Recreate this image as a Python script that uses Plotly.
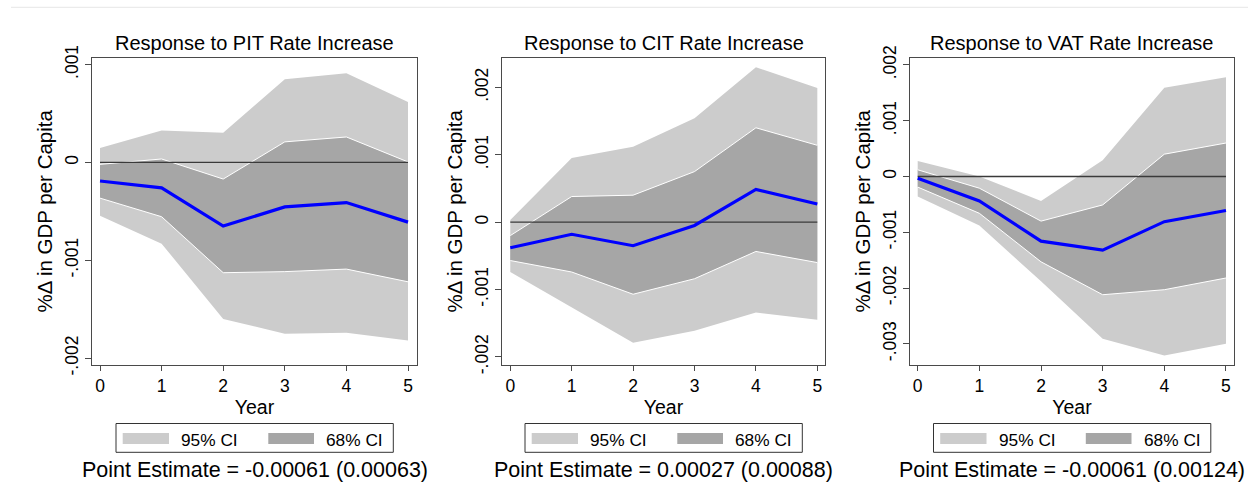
import plotly.graph_objects as go

years = [0, 1, 2, 3, 4, 5]

panel_titles = ["Response to PIT Rate Increase",
                "Response to CIT Rate Increase",
                "Response to VAT Rate Increase"]
point_notes = ["Point Estimate = -0.00061 (0.00063)",
               "Point Estimate = 0.00027 (0.00088)",
               "Point Estimate = -0.00061 (0.00124)"]
legend_labels = ["95% CI", "68% CI"]

# PIT
pit_pe = [-0.00019, -0.00026, -0.00065, -0.000455, -0.00041, -0.00061]
pit_hi68 = [-0.00002, 0.000035, -0.00017, 0.00021, 0.00026, 0.000005]
pit_lo68 = [-0.000365, -0.000555, -0.001127, -0.001116, -0.00109, -0.00122]
pit_hi95 = [0.000148, 0.000326, 0.000302, 0.00085, 0.000912, 0.000617]
pit_lo95 = [-0.000545, -0.00083, -0.0016, -0.00175, -0.00174, -0.00182]

# CIT
cit_pe = [-0.00038, -0.00018, -0.00035, -0.00005, 0.000486, 0.00027]
cit_hi68 = [-0.0002, 0.00038, 0.0004, 0.00075, 0.0014, 0.00114]
cit_lo68 = [-0.00057, -0.00074, -0.00107, -0.00084, -0.000435, -0.0006]
cit_hi95 = [0.00003, 0.00095, 0.00112, 0.00154, 0.0023, 0.00199]
cit_lo95 = [-0.00074, -0.00126, -0.00179, -0.00161, -0.00134, -0.00145]

# VAT
vat_pe = [-0.00003, -0.00044, -0.00116, -0.00132, -0.00081, -0.00061]
vat_hi68 = [0.00012, -0.00021, -0.0008, -0.00051, 0.0004, 0.0006]
vat_lo68 = [-0.00019, -0.00066, -0.00153, -0.00212, -0.00203, -0.00182]
vat_hi95 = [0.00028, 0.0, -0.00044, 0.00029, 0.00159, 0.00178]
vat_lo95 = [-0.00036, -0.00088, -0.00188, -0.00291, -0.00321, -0.003]

pit_yticks = [0.001, 0, -0.001, -0.002]
pit_ytext = [".001", "0", "-.001", "-.002"]
cit_yticks = [0.002, 0.001, 0, -0.001, -0.002]
cit_ytext = [".002", ".001", "0", "-.001", "-.002"]
vat_yticks = [0.002, 0.001, 0, -0.001, -0.002, -0.003]
vat_ytext = [".002", ".001", "0", "-.001", "-.002", "-.003"]

panels = [
    (pit_pe, pit_hi68, pit_lo68, pit_hi95, pit_lo95, pit_yticks, pit_ytext),
    (cit_pe, cit_hi68, cit_lo68, cit_hi95, cit_lo95, cit_yticks, cit_ytext),
    (vat_pe, vat_hi68, vat_lo68, vat_hi95, vat_lo95, vat_yticks, vat_ytext),
]

W, H = 1248, 493
FONT = "Liberation Sans, Arial, Helvetica, sans-serif"
C95 = "#cccccc"
C68 = "#a6a6a6"
BLUE = "#0000ff"
AXC = "#4a4a4a"

# layout geometry (pixels)
xdom_px = [(92, 417), (502, 825), (909.7, 1234.3)]
ydom_px = (57.7, 365)
xranges = [(-0.13, 5.146), (-0.135, 5.125), (-0.13, 5.135)]
yranges = [(-0.00207, 0.00107), (-0.00212, 0.00244), (-0.00338, 0.00213)]

fig = go.Figure()
layout = dict(
    width=W, height=H,
    margin=dict(l=0, r=0, t=0, b=0),
    paper_bgcolor="white", plot_bgcolor="white",
    font=dict(family=FONT, color="black"),
    showlegend=False,
    annotations=[], shapes=[],
)

ydom = [1 - ydom_px[1] / H, 1 - ydom_px[0] / H]


def px_x(v):
    return v / W


def px_y(v):
    return 1 - v / H


for i, (pe, hi68, lo68, hi95, lo95, yt, ytx) in enumerate(panels):
    k = "" if i == 0 else str(i + 1)
    xa, ya = "x" + k, "y" + k
    common = dict(x=years, xaxis=xa, yaxis=ya, mode="lines", hoverinfo="skip")
    fig.add_trace(go.Scatter(y=lo95, line=dict(width=0, color=C95),
                             showlegend=False, **common))
    fig.add_trace(go.Scatter(y=hi95, fill="tonexty", fillcolor=C95,
                             line=dict(width=0, color=C95), name=legend_labels[0],
                             **common))
    fig.add_trace(go.Scatter(y=lo68, line=dict(width=1, color="white"),
                             showlegend=False, **common))
    fig.add_trace(go.Scatter(y=hi68, fill="tonexty", fillcolor=C68,
                             line=dict(width=1, color="white"), name=legend_labels[1],
                             **common))
    fig.add_trace(go.Scatter(x=[years[0], years[-1]], y=[0, 0], xaxis=xa, yaxis=ya,
                             mode="lines", line=dict(width=1.3, color="#3a3a3a"),
                             showlegend=False, hoverinfo="skip"))
    fig.add_trace(go.Scatter(y=pe, line=dict(width=3.2, color=BLUE),
                             name="Point estimate", **common))

    x0, x1 = xdom_px[i]
    xd = [x0 / W, x1 / W]
    layout["xaxis" + k] = dict(
        domain=xd, range=list(xranges[i]), anchor=ya,
        tickvals=years, ticks="outside", ticklen=5, tickwidth=1.2, tickcolor=AXC,
        tickfont=dict(size=17.5, family=FONT, color="black"),
        showline=True, linecolor=AXC, linewidth=1.3, mirror=True,
        showgrid=False, zeroline=False,
        title=dict(text="Year", font=dict(size=19.5, family=FONT), standoff=5),
        automargin=False, fixedrange=True,
    )
    layout["yaxis" + k] = dict(
        domain=ydom, range=list(yranges[i]), anchor=xa,
        tickvals=yt, ticktext=ytx, tickangle=-90,
        ticks="outside", ticklen=6, tickwidth=1.2, tickcolor=AXC,
        tickfont=dict(size=17.5, family=FONT, color="black"),
        showline=True, linecolor=AXC, linewidth=1.3, mirror=True,
        showgrid=False, zeroline=False,
        title=dict(text="%\u0394 in GDP per Capita", font=dict(size=20.5, family=FONT),
                   standoff=3),
        automargin=False, fixedrange=True,
    )
    cpx = (x0 + x1) / 2
    xc = px_x(cpx)
    layout["annotations"].append(dict(
        text=panel_titles[i], xref="paper", yref="paper", x=xc, y=ydom[1],
        xanchor="center", yanchor="bottom", yshift=2, showarrow=False,
        font=dict(size=20, family=FONT, color="black")))
    layout["annotations"].append(dict(
        text=point_notes[i], xref="paper", yref="paper", x=xc, y=px_y(469.5),
        xanchor="center", yanchor="middle", showarrow=False,
        font=dict(size=21.5, family=FONT, color="black")))

    # legend box drawn below each panel
    layout["shapes"].append(dict(
        type="rect", xref="paper", yref="paper",
        x0=px_x(cpx - 138.5), x1=px_x(cpx + 138.8), y0=px_y(452.3), y1=px_y(423.5),
        line=dict(color="#333333", width=1), fillcolor="white"))
    for j, (sw0, sw1, tx, col) in enumerate([(-131.8, -85.5, -74.5, C95),
                                              (13.8, 59.5, 70.5, C68)]):
        layout["shapes"].append(dict(
            type="rect", xref="paper", yref="paper",
            x0=px_x(cpx + sw0), x1=px_x(cpx + sw1), y0=px_y(444), y1=px_y(433),
            line=dict(width=0), fillcolor=col))
        layout["annotations"].append(dict(
            text=legend_labels[j], xref="paper", yref="paper",
            x=px_x(cpx + tx), y=px_y(439.5), xanchor="left", yanchor="middle",
            showarrow=False, xshift=-1,
            font=dict(size=17.3, family=FONT, color="black")))

# faint rule at the very top of the page
layout["shapes"].append(dict(type="line", xref="paper", yref="paper",
                             x0=11 / W, x1=1, y0=px_y(7.3), y1=px_y(7.3),
                             line=dict(color="#e6e6e6", width=1)))

fig.update_layout(**layout)
fig.write_html("out.html")
